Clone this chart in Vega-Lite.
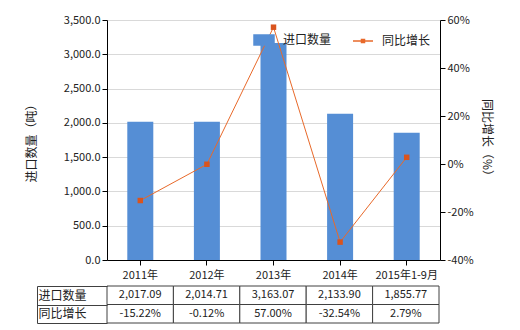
{
  "$schema": "https://vega.github.io/schema/vega-lite/v6.json",
  "padding": {"left": 25, "top": 14, "right": 5, "bottom": 5},
  "background": "white",
  "spacing": 0,
  "config": {
    "font": "Noto Sans CJK SC",
    "view": {"stroke": null},
    "axis": {"labelFont": "Noto Sans CJK SC", "titleFont": "Noto Sans CJK SC", "labelFontSize": 11, "titleFontSize": 12, "titleFontWeight": "normal", "labelColor": "#222222", "titleColor": "#222222", "domainColor": "#000000", "tickColor": "#000000"}
  },
  "datasets": {
    "main": [
      {"year": "2011年", "进口数量": 2017.09, "同比增长": -15.22},
      {"year": "2012年", "进口数量": 2014.71, "同比增长": -0.12},
      {"year": "2013年", "进口数量": 3163.07, "同比增长": 57.00},
      {"year": "2014年", "进口数量": 2133.90, "同比增长": -32.54},
      {"year": "2015年1-9月", "进口数量": 1855.77, "同比增长": 2.79}
    ]
  },
  "vconcat": [
    {
      "width": 333,
      "height": 240,
      "data": {"name": "main"},
      "layer": [
        {
          "mark": {"type": "bar", "size": 26},
          "encoding": {
            "x": {"field": "year", "type": "nominal", "sort": null, "axis": {"title": null, "labelAngle": 0, "tickSize": 5, "labelPadding": 4, "domainColor": "#000000"}},
            "y": {"field": "进口数量", "type": "quantitative", "scale": {"domain": [0, 3500]}, "axis": {"title": "进口数量（吨）", "format": ",.1f", "values": [0, 500, 1000, 1500, 2000, 2500, 3000, 3500], "gridColor": "#D9D9D9", "tickSize": 5, "titlePadding": 25}},
            "color": {
              "datum": "进口数量",
              "scale": {"domain": ["进口数量", "同比增长"], "range": ["#558ED5", "#E8692A"]},
              "legend": {
                "title": null, "orient": "none", "legendX": 146, "legendY": 9, "direction": "horizontal",
                "symbolSize": 400, "symbolStrokeWidth": 1.5, "labelFontSize": 12, "labelOffset": 8, "columnPadding": 18,
                "labelFont": "Noto Sans CJK SC", "labelColor": "#222222",
                "encode": {"symbols": {"update": {
                  "shape": {"signal": "datum.value === '同比增长' ? 'M-1,0H1M-0.15,-0.15H0.15V0.15H-0.15Z' : 'M-1,-0.5H1V0.5H-1Z'"},
                  "stroke": {"signal": "datum.value === '同比增长' ? '#E8692A' : '#558ED5'"},
                  "fill": {"signal": "datum.value === '同比增长' ? '#D9541E' : '#558ED5'"}
                }}}
              }
            }
          }
        },
        {
          "mark": {"type": "line", "strokeWidth": 1},
          "encoding": {
            "x": {"field": "year", "type": "nominal", "sort": null},
            "y": {"field": "同比增长", "type": "quantitative", "scale": {"domain": [-40, 60]}, "axis": {"orient": "right", "title": "同比增长（%）", "values": [-40, -20, 0, 20, 40, 60], "labelExpr": "datum.value + '%'", "grid": false, "tickSize": 5, "titlePadding": 6}},
            "color": {"datum": "同比增长"}
          }
        },
        {
          "mark": {"type": "point", "shape": "square", "filled": true, "size": 30, "color": "#D9541E", "opacity": 1},
          "encoding": {
            "x": {"field": "year", "type": "nominal", "sort": null},
            "y": {"field": "同比增长", "type": "quantitative", "scale": {"domain": [-40, 60]}, "axis": null}
          }
        }
      ],
      "resolve": {"scale": {"y": "independent"}}
    },
    {
      "width": 332,
      "height": 37,
      "data": {"name": "main"},
      "transform": [
        {"fold": ["进口数量", "同比增长"], "as": ["row", "v"]},
        {"calculate": "replace(datum.row === '进口数量' ? format(datum.v, ',.2f') : format(datum.v, '.2f') + '%', '\u2212', '-')", "as": "label"}
      ],
      "layer": [
        {
          "mark": {"type": "rect", "fill": "white", "stroke": "#404040", "strokeWidth": 1},
          "encoding": {
            "x": {"field": "year", "type": "nominal", "sort": null, "axis": null, "scale": {"paddingInner": 0, "paddingOuter": 0}},
            "y": {"field": "row", "type": "nominal", "sort": ["进口数量", "同比增长"], "scale": {"paddingInner": 0, "paddingOuter": 0},
              "axis": {"title": null, "offset": 70, "tickBand": "extent", "tickSize": -70, "tickColor": "#404040", "domainColor": "#404040", "labelAlign": "left", "labelPadding": 69, "labelFontSize": 12, "labelColor": "#222222"}}
          }
        },
        {
          "mark": {"type": "text", "fontSize": 11, "color": "#222222"},
          "encoding": {
            "x": {"field": "year", "type": "nominal", "sort": null},
            "y": {"field": "row", "type": "nominal", "sort": ["进口数量", "同比增长"]},
            "text": {"field": "label"}
          }
        }
      ]
    }
  ]
}
